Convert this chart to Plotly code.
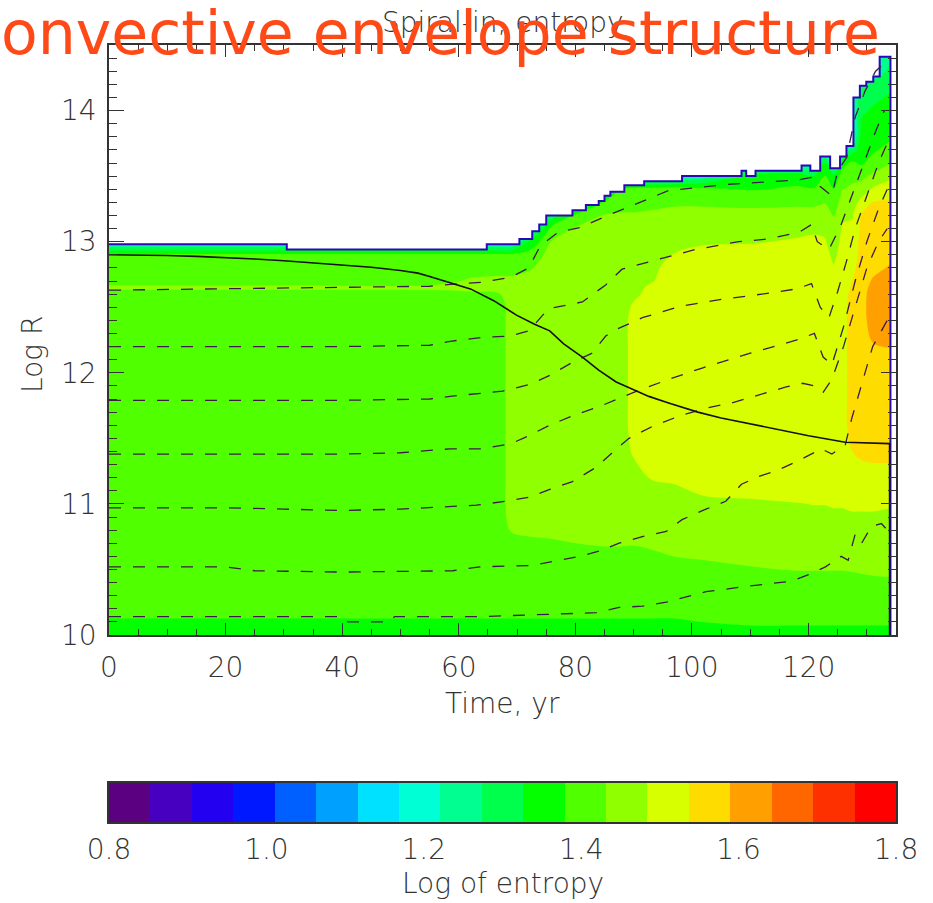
import numpy as np
import plotly.graph_objects as go

# ---------------- data ----------------
time_yr = [0, 30, 55, 62, 67, 69, 72, 76, 80, 85, 88, 90, 93, 97, 102, 110,
           118, 121, 122.8, 124.3, 125.8, 127.5, 129, 131, 134.05]
log_r = [10.0, 10.1, 10.2, 10.4, 10.6, 10.8, 11.0, 11.2, 11.4, 11.6,
         11.8, 12.0, 12.2, 12.4, 12.5, 12.6, 12.65, 12.7, 12.8, 12.9,
         13.0, 13.1, 13.2, 13.3, 13.4, 13.5, 13.6, 13.7, 13.8, 13.9,
         14.0, 14.1, 14.2, 14.3, 14.4, 14.5]

# log-entropy profiles (bottom -> top in log R), one per time column
e_t000 = [1.35, 1.37, 1.405, 1.405, 1.405, 1.405, 1.405, 1.405, 1.405, 1.405,
          1.405, 1.405, 1.405, 1.405, 1.405, 1.405, 1.445, 1.405, 1.405, 1.39,
          1.2, 1.2, 1.2, 1.2, 1.2, 1.2, 1.2, 1.2, 1.2, 1.2,
          1.2, 1.2, 1.2, 1.2, 1.2, 1.2]
e_t030 = [1.35, 1.37, 1.405, 1.405, 1.405, 1.405, 1.405, 1.405, 1.405, 1.405,
          1.405, 1.405, 1.405, 1.405, 1.405, 1.405, 1.445, 1.405, 1.405, 1.39,
          1.2, 1.2, 1.2, 1.2, 1.2, 1.2, 1.2, 1.2, 1.2, 1.2,
          1.2, 1.2, 1.2, 1.2, 1.2, 1.2]
e_t055 = [1.35, 1.37, 1.405, 1.405, 1.405, 1.405, 1.405, 1.405, 1.405, 1.405,
          1.405, 1.405, 1.405, 1.405, 1.405, 1.405, 1.448, 1.405, 1.405, 1.39,
          1.2, 1.2, 1.2, 1.2, 1.2, 1.2, 1.2, 1.2, 1.2, 1.2,
          1.2, 1.2, 1.2, 1.2, 1.2, 1.2]
e_t062 = [1.35, 1.37, 1.405, 1.405, 1.405, 1.405, 1.405, 1.405, 1.405, 1.405,
          1.405, 1.405, 1.405, 1.405, 1.405, 1.42, 1.45, 1.44, 1.405, 1.39,
          1.2, 1.2, 1.2, 1.2, 1.2, 1.2, 1.2, 1.2, 1.2, 1.2,
          1.2, 1.2, 1.2, 1.2, 1.2, 1.2]
e_t067 = [1.35, 1.37, 1.405, 1.405, 1.405, 1.405, 1.405, 1.405, 1.405, 1.405,
          1.405, 1.405, 1.405, 1.405, 1.405, 1.43, 1.45, 1.445, 1.41, 1.39,
          1.2, 1.2, 1.2, 1.2, 1.2, 1.2, 1.2, 1.2, 1.2, 1.2,
          1.2, 1.2, 1.2, 1.2, 1.2, 1.2]
e_t069 = [1.35, 1.37, 1.405, 1.405, 1.405, 1.435, 1.458, 1.458, 1.458, 1.458,
          1.458, 1.458, 1.458, 1.458, 1.458, 1.458, 1.458, 1.445, 1.41, 1.39,
          1.2, 1.2, 1.2, 1.2, 1.2, 1.2, 1.2, 1.2, 1.2, 1.2,
          1.2, 1.2, 1.2, 1.2, 1.2, 1.2]
e_t072 = [1.35, 1.37, 1.405, 1.405, 1.405, 1.44, 1.458, 1.458, 1.458, 1.458,
          1.458, 1.458, 1.458, 1.458, 1.458, 1.458, 1.458, 1.45, 1.425, 1.40,
          1.33, 1.2, 1.2, 1.2, 1.2, 1.2, 1.2, 1.2, 1.2, 1.2,
          1.2, 1.2, 1.2, 1.2, 1.2, 1.2]
e_t076 = [1.35, 1.37, 1.405, 1.405, 1.405, 1.445, 1.458, 1.458, 1.458, 1.458,
          1.458, 1.458, 1.458, 1.458, 1.458, 1.458, 1.458, 1.458, 1.458, 1.45,
          1.435, 1.40, 1.30, 1.2, 1.2, 1.2, 1.2, 1.2, 1.2, 1.2,
          1.2, 1.2, 1.2, 1.2, 1.2, 1.2]
e_t080 = [1.35, 1.37, 1.405, 1.405, 1.405, 1.458, 1.458, 1.458, 1.458, 1.458,
          1.458, 1.458, 1.458, 1.458, 1.458, 1.458, 1.458, 1.458, 1.458, 1.458,
          1.45, 1.435, 1.39, 1.2, 1.2, 1.2, 1.2, 1.2, 1.2, 1.2,
          1.2, 1.2, 1.2, 1.2, 1.2, 1.2]
e_t085 = [1.35, 1.37, 1.405, 1.405, 1.405, 1.475, 1.458, 1.458, 1.458, 1.458,
          1.458, 1.458, 1.458, 1.458, 1.458, 1.458, 1.458, 1.458, 1.458, 1.458,
          1.458, 1.45, 1.435, 1.39, 1.2, 1.2, 1.2, 1.2, 1.2, 1.2,
          1.2, 1.2, 1.2, 1.2, 1.2, 1.2]
e_t088 = [1.35, 1.37, 1.405, 1.405, 1.405, 1.475, 1.458, 1.458, 1.458, 1.458,
          1.458, 1.458, 1.458, 1.458, 1.458, 1.458, 1.458, 1.458, 1.458, 1.458,
          1.458, 1.45, 1.435, 1.42, 1.38, 1.2, 1.2, 1.2, 1.2, 1.2,
          1.2, 1.2, 1.2, 1.2, 1.2, 1.2]
e_t090 = [1.35, 1.37, 1.405, 1.405, 1.405, 1.47, 1.458, 1.458, 1.493, 1.51,
          1.51, 1.51, 1.51, 1.51, 1.495, 1.47, 1.465, 1.46, 1.458, 1.458,
          1.458, 1.45, 1.435, 1.42, 1.395, 1.2, 1.2, 1.2, 1.2, 1.2,
          1.2, 1.2, 1.2, 1.2, 1.2, 1.2]
e_t093 = [1.35, 1.37, 1.405, 1.405, 1.42, 1.465, 1.47, 1.486, 1.51, 1.51,
          1.51, 1.51, 1.51, 1.51, 1.51, 1.505, 1.495, 1.48, 1.475, 1.46,
          1.455, 1.45, 1.44, 1.42, 1.40, 1.2, 1.2, 1.2, 1.2, 1.2,
          1.2, 1.2, 1.2, 1.2, 1.2, 1.2]
e_t097 = [1.35, 1.37, 1.405, 1.405, 1.432, 1.458, 1.458, 1.493, 1.51, 1.51,
          1.51, 1.51, 1.51, 1.51, 1.51, 1.51, 1.51, 1.51, 1.50, 1.487,
          1.465, 1.455, 1.445, 1.425, 1.405, 1.2, 1.2, 1.2, 1.2, 1.2,
          1.2, 1.2, 1.2, 1.2, 1.2, 1.2]
e_t102 = [1.35, 1.38, 1.405, 1.405, 1.436, 1.46, 1.47, 1.516, 1.515, 1.51,
          1.51, 1.51, 1.51, 1.51, 1.51, 1.51, 1.51, 1.51, 1.51, 1.50,
          1.478, 1.46, 1.445, 1.425, 1.39, 1.25, 1.2, 1.2, 1.2, 1.2,
          1.2, 1.2, 1.2, 1.2, 1.2, 1.2]
e_t110 = [1.35, 1.39, 1.405, 1.405, 1.448, 1.46, 1.478, 1.51, 1.51, 1.51,
          1.51, 1.51, 1.51, 1.51, 1.51, 1.51, 1.51, 1.51, 1.51, 1.505,
          1.48, 1.465, 1.44, 1.425, 1.375, 1.34, 1.2, 1.2, 1.2, 1.2,
          1.2, 1.2, 1.2, 1.2, 1.2, 1.2]
e_t118 = [1.35, 1.39, 1.405, 1.405, 1.464, 1.47, 1.483, 1.51, 1.51, 1.51,
          1.51, 1.51, 1.51, 1.51, 1.51, 1.51, 1.51, 1.51, 1.51, 1.51,
          1.49, 1.47, 1.445, 1.425, 1.385, 1.36, 1.2, 1.2, 1.2, 1.2,
          1.2, 1.2, 1.2, 1.2, 1.2, 1.2]
e_t121 = [1.35, 1.39, 1.405, 1.405, 1.464, 1.47, 1.485, 1.51, 1.51, 1.51,
          1.51, 1.51, 1.51, 1.51, 1.51, 1.51, 1.51, 1.51, 1.51, 1.51,
          1.495, 1.475, 1.445, 1.425, 1.385, 1.33, 1.2, 1.2, 1.2, 1.2,
          1.2, 1.2, 1.2, 1.2, 1.2, 1.2]
e_t123 = [1.35, 1.39, 1.405, 1.405, 1.464, 1.47, 1.485, 1.51, 1.51, 1.51,
          1.51, 1.51, 1.51, 1.51, 1.51, 1.51, 1.51, 1.51, 1.51, 1.505,
          1.49, 1.47, 1.445, 1.43, 1.41, 1.38, 1.33, 1.2, 1.2, 1.2,
          1.2, 1.2, 1.2, 1.2, 1.2, 1.2]
e_t124 = [1.35, 1.39, 1.405, 1.405, 1.464, 1.47, 1.487, 1.51, 1.51, 1.51,
          1.51, 1.51, 1.51, 1.51, 1.51, 1.51, 1.51, 1.505, 1.49, 1.47,
          1.455, 1.44, 1.43, 1.40, 1.38, 1.34, 1.2, 1.2, 1.2, 1.2,
          1.2, 1.2, 1.2, 1.2, 1.2, 1.2]
e_t126 = [1.35, 1.39, 1.405, 1.405, 1.464, 1.47, 1.487, 1.51, 1.52, 1.525,
          1.525, 1.525, 1.525, 1.525, 1.525, 1.525, 1.525, 1.525, 1.52, 1.51,
          1.50, 1.49, 1.475, 1.455, 1.43, 1.40, 1.36, 1.2, 1.2, 1.2,
          1.2, 1.2, 1.2, 1.2, 1.2, 1.2]
e_t127 = [1.35, 1.39, 1.405, 1.41, 1.464, 1.47, 1.49, 1.52, 1.537, 1.55,
          1.55, 1.55, 1.55, 1.55, 1.55, 1.545, 1.54, 1.537, 1.525, 1.515,
          1.505, 1.495, 1.48, 1.46, 1.44, 1.42, 1.39, 1.30, 1.2, 1.2,
          1.2, 1.2, 1.2, 1.2, 1.2, 1.2]
e_t129 = [1.35, 1.39, 1.405, 1.415, 1.464, 1.47, 1.49, 1.52, 1.545, 1.56,
          1.565, 1.565, 1.565, 1.565, 1.565, 1.565, 1.565, 1.56, 1.555, 1.55,
          1.55, 1.545, 1.537, 1.50, 1.45, 1.42, 1.37, 1.35, 1.34, 1.33,
          1.32, 1.31, 1.27, 1.2, 1.2, 1.2]
e_t131 = [1.35, 1.39, 1.405, 1.42, 1.464, 1.47, 1.49, 1.52, 1.55, 1.565,
          1.57, 1.575, 1.585, 1.615, 1.62, 1.615, 1.605, 1.595, 1.575, 1.565,
          1.56, 1.555, 1.545, 1.537, 1.49, 1.44, 1.40, 1.37, 1.35, 1.34,
          1.33, 1.32, 1.30, 1.2, 1.2, 1.2]
e_t134 = [1.35, 1.39, 1.405, 1.424, 1.46, 1.47, 1.487, 1.52, 1.55, 1.565,
          1.57, 1.58, 1.59, 1.625, 1.63, 1.625, 1.62, 1.61, 1.595, 1.575,
          1.565, 1.555, 1.545, 1.54, 1.52, 1.47, 1.43, 1.40, 1.37, 1.35,
          1.34, 1.33, 1.32, 1.30, 1.27, 1.2]

entropy_columns = [e_t000, e_t030, e_t055, e_t062, e_t067, e_t069, e_t072, e_t076,
                   e_t080, e_t085, e_t088, e_t090, e_t093, e_t097, e_t102, e_t110,
                   e_t118, e_t121, e_t123, e_t124, e_t126, e_t127, e_t129, e_t131,
                   e_t134]

# stellar surface (step outline): value holds from t_i to t_{i+1}
surface_t = [0, 30.5, 64.8, 70.4, 72.6, 73.8, 75.0, 79.5, 81.8, 84.0, 85.0, 86.0,
             88.4, 91.8, 98.3, 108.5, 109.3, 110.9, 118.8, 120.3, 122.0, 123.7,
             125.4, 126.5, 127.7, 128.8, 129.9, 131.1, 132.2, 134.05]
surface_r = [12.98, 12.94, 12.98, 13.02, 13.08, 13.13, 13.20, 13.24, 13.28, 13.31,
             13.35, 13.38, 13.43, 13.46, 13.50, 13.54, 13.50, 13.54, 13.58, 13.54,
             13.65, 13.56, 13.65, 13.73, 14.10, 14.19, 14.22, 14.26, 14.41, 10.0]

# companion orbit (solid line)
orbit_t = [0, 5, 10, 15, 20, 25, 30, 35, 40, 45, 50, 53, 55, 58.5, 62, 66, 69.9,
           73, 75.6, 78, 81.2, 84, 87, 90, 92.6, 96, 101, 105, 110, 115, 120,
           126.3, 133.9, 133.9]
orbit_r = [12.90, 12.90, 12.895, 12.888, 12.88, 12.868, 12.855, 12.84, 12.825, 12.805,
           12.78, 12.76, 12.735, 12.69, 12.64, 12.55, 12.44, 12.37, 12.32, 12.22,
           12.12, 12.02, 11.93, 11.87, 11.82, 11.77, 11.70, 11.655, 11.61, 11.565,
           11.52, 11.47, 11.46, 10.0]

# mass-coordinate lines (dashed)
mA_t = [0, 20, 40, 55, 60, 64, 69, 72, 74, 77, 81, 85, 90, 96, 107, 118, 120.5,
        122, 124, 125, 126.5, 128, 129.7, 131.5, 133.2]
mA_r = [12.63, 12.64, 12.65, 12.66, 12.68, 12.69, 12.73, 12.80, 12.97, 13.07, 13.11,
        13.19, 13.28, 13.39, 13.44, 13.47, 13.49, 13.42, 13.35, 13.54, 13.64, 13.95,
        14.15, 14.30, 14.37]
mB_t = [0, 20, 40, 55, 58.5, 64, 68.7, 72.1, 74.4, 75.6, 81.2, 85.2, 88, 93.8,
        100.6, 108, 113, 118.3, 120.5, 121.5, 123.5, 125.5, 127.4, 129.5, 131.5, 133]
mB_r = [12.20, 12.20, 12.20, 12.21, 12.24, 12.27, 12.28, 12.32, 12.44, 12.49, 12.54,
        12.67, 12.79, 12.86, 12.94, 13.00, 13.02, 13.07, 13.13, 13.00, 12.94, 13.12,
        13.35, 13.60, 13.84, 14.00]
mC_t = [0, 20, 40, 55, 58.5, 67.5, 72.1, 75.6, 79.5, 82.9, 85.2, 87, 91.5, 98.3,
        105, 112, 118, 120.5, 122, 123.5, 125, 126.5, 128, 130, 132, 133.5]
mC_r = [11.79, 11.79, 11.79, 11.80, 11.82, 11.86, 11.91, 11.98, 12.08, 12.15, 12.28,
        12.33, 12.42, 12.51, 12.56, 12.60, 12.64, 12.68, 12.50, 12.42, 12.62, 12.85,
        13.10, 13.35, 13.60, 13.75]
mD_t = [0, 20, 40, 50, 58.5, 64, 69, 72, 75.6, 80, 84, 90, 96, 102, 110, 118, 121,
        122.5, 124, 126, 128, 130, 132, 133.5]
mD_r = [11.38, 11.38, 11.38, 11.39, 11.42, 11.42, 11.46, 11.52, 11.60, 11.68, 11.74,
        11.85, 11.95, 12.04, 12.15, 12.25, 12.30, 12.12, 12.06, 12.35, 12.70, 13.00,
        13.25, 13.40]
mE_t = [0, 20, 30, 40, 50, 60, 63, 68, 72, 75.6, 79.5, 83.6, 86.3, 89.2, 93.2, 97.8,
        102.4, 106.8, 112, 116, 119, 121, 122.5, 124, 126, 128, 130, 132, 133.5]
mE_r = [10.97, 10.97, 10.96, 10.95, 10.96, 10.98, 10.99, 11.02, 11.05, 11.11, 11.17,
        11.28, 11.39, 11.50, 11.59, 11.67, 11.73, 11.77, 11.84, 11.89, 11.92, 11.90,
        11.85, 11.95, 12.20, 12.50, 12.80, 13.00, 13.10]
mF_t = [0, 20, 25, 40, 59, 63.6, 72.6, 76, 80.7, 84.1, 87.5, 91.5, 95.6, 98.3, 102.4,
        105.8, 108.5, 111.5, 114.9, 118.3, 122.2, 124, 126.3, 127.4, 129, 131, 133.5]
mF_r = [10.52, 10.52, 10.49, 10.48, 10.49, 10.52, 10.53, 10.56, 10.60, 10.64, 10.70,
        10.75, 10.79, 10.88, 10.96, 11.02, 11.15, 11.21, 11.26, 11.33, 11.42, 11.38,
        11.45, 11.65, 11.90, 12.20, 12.40]
mG_t = [0, 40, 41, 48, 49, 63.6, 83.6, 87.5, 91.5, 95.6, 102.4, 109.2, 117, 120,
        122.9, 125.6, 126.8, 128, 129.1, 130.8, 132.5, 133.5]
mG_r = [10.14, 10.14, 10.10, 10.10, 10.14, 10.14, 10.17, 10.21, 10.22, 10.25, 10.33,
        10.37, 10.41, 10.46, 10.52, 10.60, 10.57, 10.77, 10.70, 10.83, 10.85, 10.80]
mass_lines = [(mA_t, mA_r), (mB_t, mB_r), (mC_t, mC_r), (mD_t, mD_r),
              (mE_t, mE_r), (mF_t, mF_r), (mG_t, mG_r)]

# colour table: 19 bands between 0.8 and 1.8
band_colors = ['#5a0080', '#4800c0', '#2400f0', '#0018ff', '#0060ff', '#00a0ff',
               '#00e0ff', '#00ffd4', '#00ff90', '#00ff4c', '#04ff00', '#50ff00',
               '#90ff00', '#d8ff00', '#ffdc00', '#ffa000', '#ff6600', '#ff3000',
               '#ff0000']
level_start, level_end, n_bands = 0.8, 1.8, 19
cbar_ticks = [0.8, 1.0, 1.2, 1.4, 1.6, 1.8]
cbar_ticktext = ['0.8', '1.0', '1.2', '1.4', '1.6', '1.8']

# ---------------- figure ----------------
FONT = 'DejaVu Sans, sans-serif'
AX = '#333333'
W, H = 933, 903
ML, MR, MT, MB = 109, 37, 45, 81
PW, PH = W - ML - MR, H - MT - MB


def px2x(px):
    return (px - ML) / PW


def py2y(py):
    return (H - MB - py) / PH


size = (level_end - level_start) / n_bands
z = np.array(entropy_columns).T

cont_colors = [band_colors[0]] + band_colors + [band_colors[-1]]
cont_scale = [[j / (len(cont_colors) - 1), c] for j, c in enumerate(cont_colors)]

fig = go.Figure()
fig.add_trace(go.Contour(
    x=time_yr, y=log_r, z=z, autocontour=False,
    contours=dict(start=level_start, end=level_end, size=size,
                  coloring='fill', showlines=False),
    colorscale=cont_scale, showscale=False, line=dict(width=0),
    hoverinfo='skip', xaxis='x', yaxis='y'))

# step outline of the surface
st_x, st_y = [surface_t[0]], [surface_r[0]]
for i in range(1, len(surface_t)):
    st_x += [surface_t[i], surface_t[i]]
    st_y += [surface_r[i - 1], surface_r[i]]

mask_x = [-2, -2] + st_x + [st_x[-1], 137, 137, -2]
mask_y = [14.8, surface_r[0]] + st_y + [9.8, 9.8, 14.8, 14.8]
fig.add_trace(go.Scatter(x=mask_x, y=mask_y, mode='lines', fill='toself',
                         fillcolor='white', line=dict(width=0), hoverinfo='skip',
                         showlegend=False))
fig.add_trace(go.Scatter(x=st_x, y=st_y, mode='lines',
                         line=dict(color='#2a08b8', width=2), hoverinfo='skip',
                         showlegend=False))

for mt, mr in mass_lines:
    fig.add_trace(go.Scatter(x=mt, y=mr, mode='lines',
                             line=dict(color='#3c1c4c', width=1.3, dash='12px,12px'),
                             hoverinfo='skip', showlegend=False))

fig.add_trace(go.Scatter(x=orbit_t, y=orbit_r, mode='lines',
                         line=dict(color='#111111', width=1.6),
                         hoverinfo='skip', showlegend=False))

# colour bar drawn as a heatmap row
centers = [level_start + (i + 0.5) * size for i in range(n_bands)]
hm_scale = [[0, band_colors[0]]] + \
    [[(i + 0.5) / n_bands, c] for i, c in enumerate(band_colors)] + \
    [[1, band_colors[-1]]]
fig.add_trace(go.Heatmap(x=centers, y=[0], z=[centers], zmin=level_start,
                         zmax=level_end, colorscale=hm_scale, showscale=False,
                         hoverinfo='skip', xaxis='x2', yaxis='y2'))

tickfont = dict(family=FONT, size=28, color='#333333', weight=200)
fig.update_layout(
    width=W, height=H, autosize=False,
    margin=dict(l=ML, r=MR, t=MT, b=MB, pad=0),
    paper_bgcolor='white', plot_bgcolor='white', showlegend=False,
    xaxis=dict(domain=[0, 1], anchor='y', range=[0, 135], tickmode='linear',
               tick0=0, dtick=20, ticks='inside', ticklen=12, tickwidth=1.3,
               tickcolor=AX,
               minor=dict(dtick=5, ticklen=6, ticks='inside', tickcolor=AX,
                          tickwidth=1),
               showline=True, linecolor=AX, linewidth=1.6, mirror='allticks',
               showgrid=False, zeroline=False, tickfont=tickfont,
               ticklabelstandoff=7),
    yaxis=dict(domain=[py2y(635), 1], anchor='x', range=[10, 14.5],
               tickmode='linear', tick0=10, dtick=1, ticks='inside', ticklen=15,
               tickwidth=1.3, tickcolor=AX,
               minor=dict(dtick=0.1, ticklen=8, ticks='inside', tickcolor=AX,
                          tickwidth=1),
               showline=True, linecolor=AX, linewidth=1.6, mirror='allticks',
               showgrid=False, zeroline=False, tickfont=tickfont,
               ticklabelstandoff=5),
    xaxis2=dict(domain=[0, 1], anchor='y2', range=[level_start, level_end],
                tickmode='array', tickvals=cbar_ticks, ticktext=cbar_ticktext,
                ticks='', showline=True, linecolor=AX, linewidth=1.6, mirror=True,
                showgrid=False, zeroline=False, tickfont=tickfont,
                ticklabelstandoff=2),
    yaxis2=dict(domain=[0, py2y(783)], anchor='x2', range=[-0.5, 0.5],
                showticklabels=False, ticks='', showline=True, linecolor=AX,
                linewidth=1.6, mirror=True, showgrid=False, zeroline=False),
)

lab = dict(family=FONT, size=28, color='#333333', weight=200)
fig.add_annotation(text='Spiral-in, entropy', xref='paper', yref='paper',
                   x=0.5, y=py2y(23), xanchor='center', yanchor='middle',
                   showarrow=False, font=dict(family=FONT, size=28, color='#333333',
                                              weight=200))
fig.add_annotation(text='onvective envelope structure', xref='paper', yref='paper',
                   x=px2x(-1), y=py2y(33), xanchor='left', yanchor='middle',
                   showarrow=False,
                   font=dict(family='DejaVu Sans', size=60, color='#ff4a17'))
fig.add_annotation(text='Time, yr', xref='paper', yref='paper', x=0.5,
                   y=py2y(703), xanchor='center', yanchor='middle',
                   showarrow=False, font=lab)
fig.add_annotation(text='Log R', xref='paper', yref='paper', x=px2x(32),
                   y=py2y(355), xanchor='center', yanchor='middle', textangle=-90,
                   showarrow=False, font=lab)
fig.add_annotation(text='Log of entropy', xref='paper', yref='paper', x=0.5,
                   y=py2y(884), xanchor='center', yanchor='middle',
                   showarrow=False, font=lab)

fig.write_html('out.html')
